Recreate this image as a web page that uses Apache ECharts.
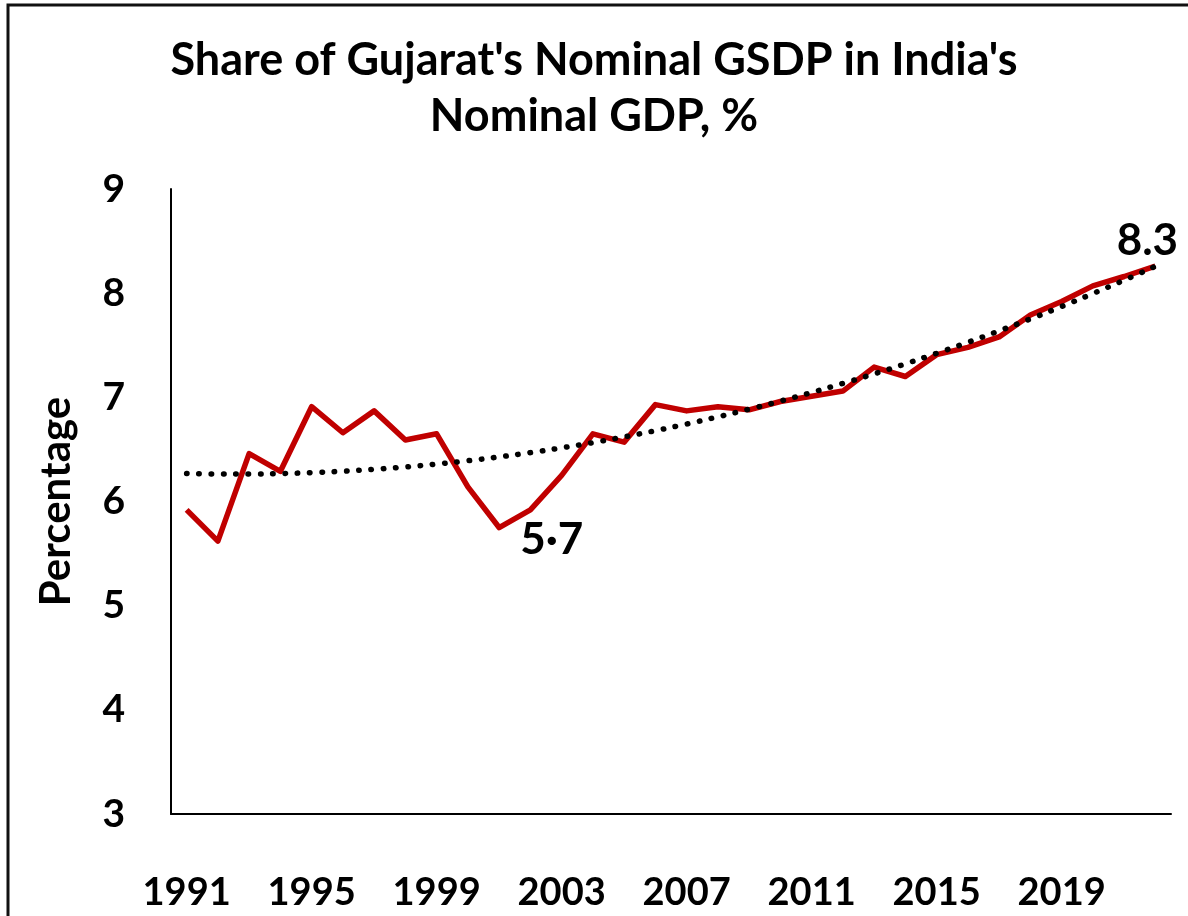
<!DOCTYPE html>
<html>
<head>
<meta charset="utf-8">
<title>Share of Gujarat's Nominal GSDP</title>
<script src="https://cdn.jsdelivr.net/npm/echarts@6/dist/echarts.min.js"></script>
<style>
  html, body { margin: 0; padding: 0; background: #fff; }
  #chart { width: 1188px; height: 916px; }
</style>
</head>
<body>
<div id="chart"></div>
<script>
// years and share (%)
var years = ['1991','1992','1993','1994','1995','1996','1997','1998','1999','2000',
             '2001','2002','2003','2004','2005','2006','2007','2008','2009','2010',
             '2011','2012','2013','2014','2015','2016','2017','2018','2019','2020',
             '2021','2022'];
var share = [5.92, 5.62, 6.46, 6.29, 6.91, 6.66, 6.87, 6.59, 6.65, 6.14,
             5.75, 5.92, 6.25, 6.65, 6.57, 6.93, 6.87, 6.91, 6.88, 6.96,
             7.01, 7.06, 7.29, 7.20, 7.41, 7.48, 7.58, 7.79, 7.92, 8.07,
             8.16, 8.26];
var yTicks = [3, 4, 5, 6, 7, 8, 9];
var minIdx = 10;   // 2001, labelled 5.7
var lastIdx = 31;  // 2022, labelled 8.3

// polynomial (order 2) trendline, least squares fit like Excel does
function polyTrend(vals) {
    var n = vals.length, s = [0,0,0,0,0], t = [0,0,0];
    for (var i = 0; i < n; i++) {
        var p = 1;
        for (var k = 0; k < 5; k++) { s[k] += p; if (k < 3) t[k] += p * vals[i]; p *= i; }
    }
    // solve 3x3 normal equations (Cramer)
    var m = [[s[0],s[1],s[2]],[s[1],s[2],s[3]],[s[2],s[3],s[4]]];
    function det(a) {
        return a[0][0]*(a[1][1]*a[2][2]-a[1][2]*a[2][1])
             - a[0][1]*(a[1][0]*a[2][2]-a[1][2]*a[2][0])
             + a[0][2]*(a[1][0]*a[2][1]-a[1][1]*a[2][0]);
    }
    var d = det(m), c = [];
    for (var j = 0; j < 3; j++) {
        var mm = m.map(function(r, ri) { var rr = r.slice(); rr[j] = t[ri]; return rr; });
        c.push(det(mm) / d);
    }
    return vals.map(function(v, i) { return +(c[0] + c[1]*i + c[2]*i*i).toFixed(4); });
}

var shareData = share.map(function(v, i) {
    if (i === minIdx) {
        return { value: v, label: { show: true, position: 'right', offset: [16, 12], formatter: '5·7' } };
    }
    if (i === lastIdx) {
        return { value: v, label: { show: true, position: 'top', offset: [-8, 2], formatter: '8.3' } };
    }
    return v;
});

var chart = echarts.init(document.getElementById('chart'));
var font = 'Lato, "Open Sans", sans-serif';

var option = {
    animation: false,
    backgroundColor: '#fff',
    textStyle: { fontFamily: font },
    title: {
        text: "Share of Gujarat's Nominal GSDP in India's\nNominal GDP, %",
        left: 'center',
        top: 27,
        textStyle: { fontFamily: font, fontSize: 45, fontWeight: 'bold', color: '#000', lineHeight: 56 }
    },
    graphic: [{
        type: 'rect',
        shape: { x: 8, y: 5, width: 1300, height: 1100 },
        style: { fill: 'none', stroke: '#111', lineWidth: 3 },
        silent: true
    }],
    grid: { left: 171, right: 17, top: 189, bottom: 102, containLabel: false },
    xAxis: {
        type: 'category',
        data: years,
        boundaryGap: true,
        axisLine: { lineStyle: { color: '#000', width: 2 } },
        axisTick: { show: false },
        axisLabel: { interval: 3, margin: 60, fontSize: 38, fontWeight: 'bold', color: '#000', fontFamily: font },
        splitLine: { show: false }
    },
    yAxis: {
        type: 'value',
        min: yTicks[0],
        max: yTicks[yTicks.length - 1],
        interval: 1,
        name: 'Percentage',
        nameLocation: 'middle',
        nameGap: 94,
        nameRotate: 90,
        nameTextStyle: { fontSize: 42, fontWeight: 'bold', color: '#000', fontFamily: font },
        axisLine: { show: true, lineStyle: { color: '#000', width: 2 } },
        axisTick: { show: false },
        axisLabel: { margin: 46, fontSize: 39, fontWeight: 'bold', color: '#000', fontFamily: font },
        splitLine: { show: false }
    },
    series: [{
        name: 'Share',
        type: 'line',
        data: shareData,
        symbol: 'circle',
        symbolSize: 0,
        showSymbol: true,
        lineStyle: { color: '#C00000', width: 5.5, join: 'round' },
        itemStyle: { color: '#C00000' },
        label: { fontSize: 44, fontWeight: 'bold', color: '#000', fontFamily: font },
        z: 3
    }, {
        name: 'Trend',
        type: 'line',
        data: polyTrend(share),
        symbol: 'none',
        smooth: true,
        lineStyle: { color: '#000', width: 5.5, type: [0.5, 11.8], cap: 'round' },
        z: 4
    }]
};
chart.setOption(option);
</script>
</body>
</html>
